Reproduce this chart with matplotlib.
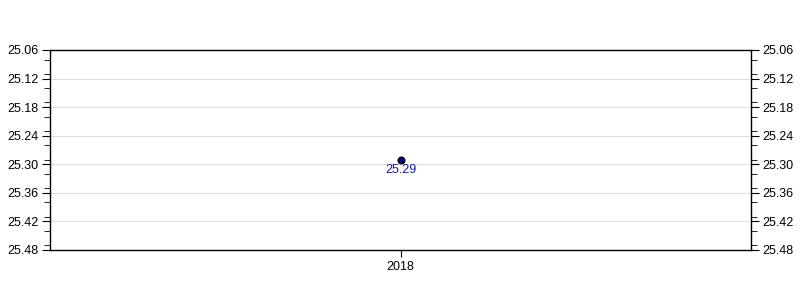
import matplotlib
matplotlib.use("Agg")
import matplotlib.pyplot as plt
from matplotlib.ticker import MultipleLocator, FormatStrFormatter

years = ["2018"]
values = [25.29]
y_min, y_max = 25.06, 25.48

plt.rcParams['font.family'] = ['Liberation Sans', 'DejaVu Sans']
fig = plt.figure(figsize=(8, 3), dpi=100)
ax = fig.add_axes([50/800, 50/300, 701/800, 200/300])

xs = list(range(len(years)))
ax.plot(xs, values, linestyle='none', marker='o', markersize=4.8,
        markerfacecolor='#000080', markeredgecolor='black', markeredgewidth=1, zorder=3)
for x, v in zip(xs, values):
    ax.annotate(f"{v:.2f}", (x, v), xytext=(0, -3.5), textcoords='offset points',
                ha='center', va='top', fontsize=9, color='#1a1aa6')

ax.set_xlim(-1, len(years))
ax.set_xticks(xs)
ax.set_xticklabels(years)
ax.yaxis.set_minor_locator(MultipleLocator(0.03))
ax.yaxis.set_major_formatter(FormatStrFormatter('%.2f'))
ax.set_yticks([y_min + 0.06*i for i in range(8)])
ax.set_ylim(y_max, y_min)
ax.grid(axis='y', which='major', color='#dddddd', linewidth=0.8)
ax.set_axisbelow(True)
ax.tick_params(axis='y', which='both', left=True, right=True, labelleft=True, labelright=True,
               direction='out', labelsize=9, color='black', pad=2)
ax.tick_params(axis='y', which='major', length=6)
ax.tick_params(axis='y', which='minor', length=4)
ax.tick_params(axis='x', which='both', length=5, labelsize=9, pad=3)
for s in ax.spines.values():
    s.set_color('black')
    s.set_linewidth(1)

fig.savefig("out.png", dpi=100)
